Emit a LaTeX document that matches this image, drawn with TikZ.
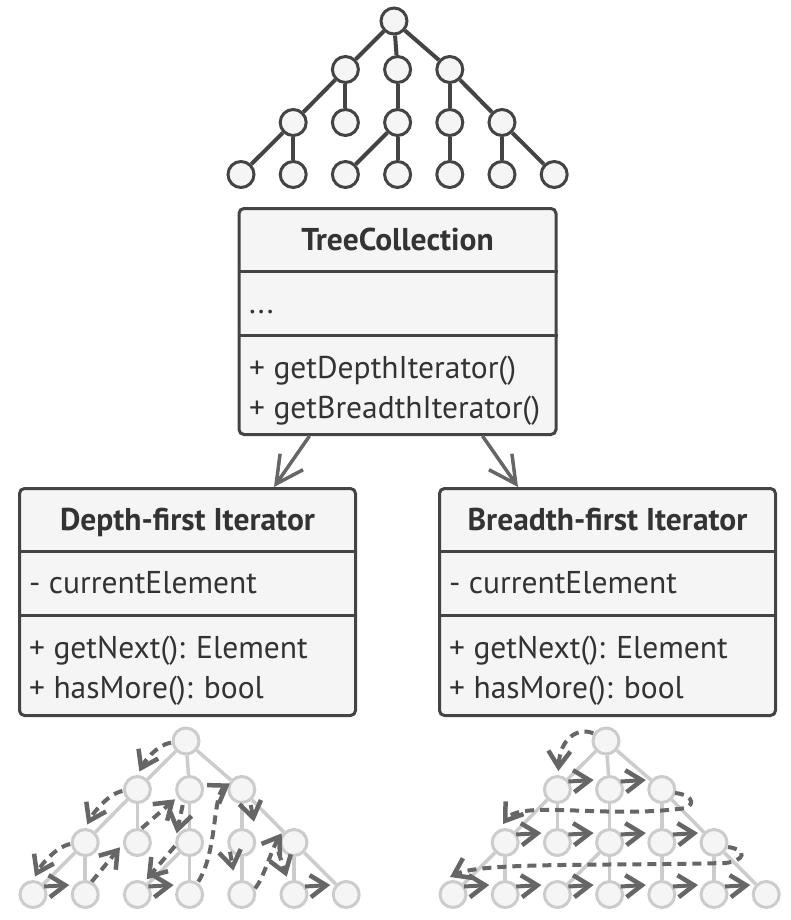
\documentclass[tikz,border=0pt]{standalone}
\usepackage{fontspec}
\setmainfont{PT Sans}
\usetikzlibrary{arrows.meta,calc}
\definecolor{dk}{HTML}{444444}
\definecolor{bgf}{HTML}{F5F5F5}
\definecolor{lt}{HTML}{CCCCCC}
\definecolor{ar}{HTML}{666666}
\definecolor{tx}{HTML}{333333}

\newcommand{\mktree}[5]{%
  \node[#4] (#1n0) at (#2,#3) {};
  \node[#4] (#1n1a) at (#2-48.6,#3+48.5) {};
  \node[#4] (#1n1b) at (#2+3.6,#3+48.5) {};
  \node[#4] (#1n1c) at (#2+55.8,#3+48.5) {};
  \node[#4] (#1n2a) at (#2-100.8,#3+101.5) {};
  \node[#4] (#1n2b) at (#2-48.6,#3+101.5) {};
  \node[#4] (#1n2c) at (#2+3.6,#3+101.5) {};
  \node[#4] (#1n2d) at (#2+55.8,#3+101.5) {};
  \node[#4] (#1n2e) at (#2+108,#3+101.5) {};
  \node[#4] (#1n3a) at (#2-153,#3+153.5) {};
  \node[#4] (#1n3b) at (#2-100.8,#3+153.5) {};
  \node[#4] (#1n3c) at (#2-48.6,#3+153.5) {};
  \node[#4] (#1n3d) at (#2+3.6,#3+153.5) {};
  \node[#4] (#1n3e) at (#2+55.8,#3+153.5) {};
  \node[#4] (#1n3f) at (#2+108,#3+153.5) {};
  \node[#4] (#1n3g) at (#2+160.2,#3+153.5) {};
  \draw[#5] (#1n0) -- (#1n1a);
  \draw[#5] (#1n0) -- (#1n1b);
  \draw[#5] (#1n0) -- (#1n1c);
  \draw[#5] (#1n1a) -- (#1n2a);
  \draw[#5] (#1n1a) -- (#1n2b);
  \draw[#5] (#1n1b) -- (#1n2c);
  \draw[#5] (#1n1c) -- (#1n2d);
  \draw[#5] (#1n1c) -- (#1n2e);
  \draw[#5] (#1n2a) -- (#1n3a);
  \draw[#5] (#1n2a) -- (#1n3b);
  \draw[#5] (#1n2c) -- (#1n3c);
  \draw[#5] (#1n2c) -- (#1n3d);
  \draw[#5] (#1n2d) -- (#1n3e);
  \draw[#5] (#1n2e) -- (#1n3f);
  \draw[#5] (#1n2e) -- (#1n3g);
}
\newcommand{\hopto}[2]{\draw[hop] ($(#1)+(11,-8)$) -- ($(#2)+(-16,-9.5)$);}

\begin{document}
\begin{tikzpicture}[x=1pt,y=-1pt,
  dknode/.style={circle,draw=dk,fill=bgf,line width=3pt,minimum size=26pt,inner sep=0pt},
  ltnode/.style={circle,draw=lt,fill=bgf,line width=3pt,minimum size=26pt,inner sep=0pt},
  dkedge/.style={draw=dk,line width=4pt},
  ltedge/.style={draw=lt,line width=3.5pt},
  classbox/.style={draw=dk,fill=bgf,line width=3pt,rounded corners=5pt,inner sep=0pt},
  sepline/.style={draw=dk,line width=3pt},
  titletext/.style={font=\fontsize{31.5}{36}\selectfont\bfseries,text=tx,anchor=base,inner sep=0pt},
  membertext/.style={font=\fontsize{31.5}{36}\selectfont,text=tx,anchor=base west,inner sep=0pt},
  assoc/.style={draw=ar,line width=3.5pt,-{Straight Barb[length=27pt,width=28pt]}},
  hop/.style={draw=ar,line width=4pt,-{Straight Barb[length=16pt,width=22pt,line width=4.5pt]}},
  dhop/.style={hop,dash pattern=on 9pt off 6pt},
]
\fill[white] (0,0) rectangle (790,920);
\useasboundingbox (0,0) rectangle (790,920);

% top tree
\mktree{t}{394}{21}{dknode}{dkedge}

% TreeCollection
\node[classbox,minimum width=317pt,minimum height=226pt] (tc) at (397.5,321.5) {};
\draw[sepline] ($(tc.north west)+(0,64)$) -- ($(tc.north east)+(0,64)$);
\draw[sepline] ($(tc.north west)+(0,128)$) -- ($(tc.north east)+(0,128)$);
\node[titletext] (tct) at (397.5,250) {TreeCollection};
\node[membertext] (tca) at (249,313) {...};
\node[membertext] (tcm1) at (249,378) {+ getDepthIterator()};
\node[membertext] (tcm2) at (249,418) {+ getBreadthIterator()};

% Depth-first
\node[classbox,minimum width=336pt,minimum height=227pt] (dfi) at (187.5,602) {};
\draw[sepline] ($(dfi.north west)+(0,64)$) -- ($(dfi.north east)+(0,64)$);
\draw[sepline] ($(dfi.north west)+(0,128)$) -- ($(dfi.north east)+(0,128)$);
\node[titletext] (dft) at (187.5,530) {Depth-first Iterator};
\node[membertext] (dfa) at (29,593) {- currentElement};
\node[membertext] (dfm1) at (29,658) {+ getNext(): Element};
\node[membertext] (dfm2) at (29,698) {+ hasMore(): bool};

% Breadth-first
\node[classbox,minimum width=336pt,minimum height=227pt] (bfi) at (607.5,602) {};
\draw[sepline] ($(bfi.north west)+(0,64)$) -- ($(bfi.north east)+(0,64)$);
\draw[sepline] ($(bfi.north west)+(0,128)$) -- ($(bfi.north east)+(0,128)$);
\node[titletext] (bft) at (607.5,530) {Breadth-first Iterator};
\node[membertext] (bfa) at (449,593) {- currentElement};
\node[membertext] (bfm1) at (449,658) {+ getNext(): Element};
\node[membertext] (bfm2) at (449,698) {+ hasMore(): bool};

% associations
\coordinate (a1s) at ($(tc.south west)+(72,0)$);
\coordinate (a1e) at ($(dfi.north west)+(256,0)$);
\coordinate (a2s) at ($(tc.south west)+(245,0)$);
\coordinate (a2e) at ($(bfi.north west)+(80,0)$);
\draw[assoc] (a1s) -- (a1e);
\draw[assoc] (a2s) -- (a2e);

% bottom trees
\mktree{d}{186}{741}{ltnode}{ltedge}
\mktree{b}{606}{741}{ltnode}{ltedge}

% depth-first traversal
\draw[dhop] ($(dn0)+(-15,1.5)$) .. controls ($(dn0)+(-30,4.5)$) and ($(dn1a)+(7,-28)$) .. ($(dn1a)+(2,-18)$);
\draw[dhop] ($(dn1a)+(-15,1.5)$) .. controls ($(dn1a)+(-30,4.5)$) and ($(dn2a)+(7,-28)$) .. ($(dn2a)+(2,-18)$);
\draw[dhop] ($(dn2a)+(-15,1.5)$) .. controls ($(dn2a)+(-30,4.5)$) and ($(dn3a)+(7,-28)$) .. ($(dn3a)+(2,-18)$);
\hopto{dn3a}{dn3b}
\draw[dhop] ($(dn3b)+(6.5,-12.8)$) -- ($(dn2b)+(-17.4,4.8)$);
\draw[dhop] ($(dn2b)+(4.3,-14.2)$) -- ($(dn1b)+(-14.6,9.8)$);
\draw[dhop] ($(dn1b)+(-6.9,15.5)$) -- ($(dn2c)+(-12.9,-9.2)$);
\draw[dhop] ($(dn2c)+(-14.6,3.5)$) -- ($(dn3c)+(9.3,-15.2)$);
\hopto{dn3c}{dn3d}
\draw[dhop] ($(dn3d)+(8.7,-12.8)$) .. controls ($(dn3d)+(28.4,-44.5)$) and ($(dn1c)+(-29.8,5.5)$) .. ($(dn1c)+(-12,-6)$);
\draw[dhop] ($(dn1c)+(8.9,15.5)$) -- ($(dn2d)+(12.2,-20.8)$);
\draw[dhop] ($(dn2d)+(-11.8,9.2)$) -- ($(dn3e)+(-8.5,-23.8)$);
\draw[dhop] ($(dn3e)+(13.2,-6.2)$) .. controls ($(dn3e)+(21.2,-14.5)$) and ($(dn2e)+(-22,5.5)$) .. ($(dn2e)+(-12.3,-9.2)$);
\draw[dhop] ($(dn2e)+(-15.7,9.2)$) -- ($(dn3f)+(-7.3,-17.8)$);
\hopto{dn3f}{dn3g}

% breadth-first traversal
\draw[dhop] ($(bn0)+(-12.7,-7.7)$) .. controls ($(bn0)+(-28,-14)$) and ($(bn1a)+(2.6,-51.5)$) .. ($(bn1a)+(1,-18.5)$);
\hopto{bn1a}{bn1b}
\hopto{bn1b}{bn1c}
\draw[dhop] ($(bn1c)+(13.2,3.5)$) .. controls ($(bn1c)+(33.2,5.5)$) and ($(bn1c)+(35.2,18.5)$) .. ($(bn1c)+(16.2,19.5)$)
  .. controls ($(bn2c)+(-9.6,-24.5)$) and ($(bn2a)+(14.8,-42.5)$) .. ($(bn2a)+(-2.2,-18.5)$);
\hopto{bn2a}{bn2b}
\hopto{bn2b}{bn2c}
\hopto{bn2c}{bn2d}
\hopto{bn2d}{bn2e}
\draw[dhop] ($(bn2e)+(14,4.5)$) .. controls ($(bn2e)+(34,7.5)$) and ($(bn2e)+(31,18.5)$) .. ($(bn2e)+(11,20.5)$)
  .. controls ($(bn3d)+(-9.6,-28.5)$) and ($(bn3a)+(27,-32.5)$) .. ($(bn3a)+(-3,-17.5)$);
\hopto{bn3a}{bn3b}
\hopto{bn3b}{bn3c}
\hopto{bn3c}{bn3d}
\hopto{bn3d}{bn3e}
\hopto{bn3e}{bn3f}
\hopto{bn3f}{bn3g}
\end{tikzpicture}
\end{document}
